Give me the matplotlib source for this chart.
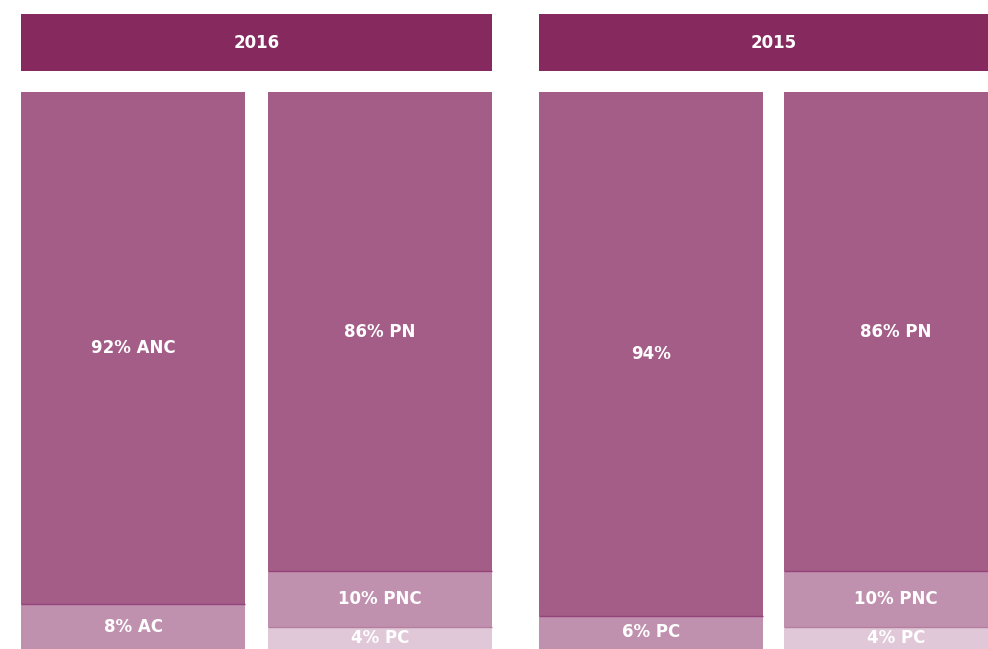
import matplotlib
matplotlib.use("Agg")
import matplotlib.pyplot as plt
from matplotlib.patches import Rectangle

# survey years and the two stacked bars under each year
years = ["2016", "2015"]
left_labels = [["ANC", "AC"], ["", "PC"]]
left_values = [[92, 8], [94, 6]]
right_labels = [["PN", "PNC", "PC"], ["PN", "PNC", "PC"]]
right_values = [[86, 10, 4], [86, 10, 4]]

HEADER = "#86295f"
SHADES = ["#a35d87", "#c091af", "#e0c8d8"]
SEP = ["#95437a", "#b47e9f"]

W, H = 988, 649
fig = plt.figure(figsize=(W / 100, H / 100), dpi=100)
ax = fig.add_axes([0, 0, 1, 1])
ax.set_xlim(0, W)
# 100 % of a bar spans 557 px, starting at the bottom edge
scale = 557 / 100
ax.set_ylim(0, H / scale)
ax.axis("off")

bar_w = 224
left_x = [21, 539]
right_x = [268, 784]
font = dict(color="white", fontweight="bold", fontsize=12,
            family="DejaVu Sans", ha="center", va="center")


def stack(x0, labels, values):
    bottom = 0
    order = list(zip(labels, values))[::-1]
    n = len(order)
    for i, (lab, val) in enumerate(order):
        shade = SHADES[n - 1 - i]
        ax.bar(x0 + bar_w / 2, val, width=bar_w, bottom=bottom,
               color=shade, edgecolor="none", linewidth=0)
        text = f"{val}% {lab}".strip()
        ax.text(x0 + bar_w / 2, bottom + val / 2, text, **font)
        if i > 0:
            ax.hlines(bottom, x0, x0 + bar_w, color=SEP[n - 1 - i], lw=1)
        bottom += val


for k, year in enumerate(years):
    x0, x1 = left_x[k], right_x[k]
    hb, ht = (H - 71) / scale, (H - 14) / scale
    ax.add_patch(Rectangle((x0, hb), x1 + bar_w - x0, ht - hb,
                           color=HEADER, lw=0))
    ax.text((x0 + x1 + bar_w) / 2, (hb + ht) / 2, year, **font)
    stack(x0, left_labels[k], left_values[k])
    stack(x1, right_labels[k], right_values[k])

fig.savefig("out.png", dpi=100)
